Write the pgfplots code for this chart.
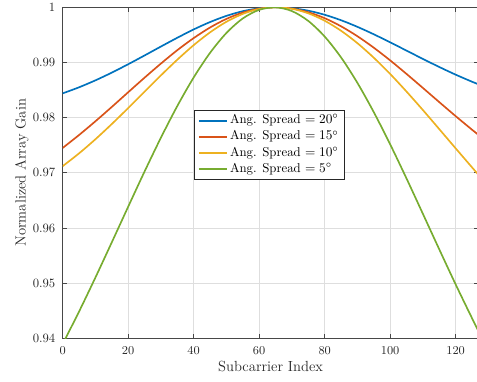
\documentclass[border=0pt]{standalone}
\usepackage{pgfplots}
\pgfplotsset{compat=1.18}
\definecolor{matA}{rgb}{0,0.447,0.741}
\definecolor{matB}{rgb}{0.85,0.325,0.098}
\definecolor{matC}{rgb}{0.929,0.694,0.125}
\definecolor{matD}{rgb}{0.466,0.674,0.188}
\definecolor{axgray}{rgb}{0.15,0.15,0.15}
\pgfplotsset{
  mline/.style={line width=1.25pt, smooth, tension=0.5},
  legend image code/.code={\draw[#1, line width=1.4pt] (0pt,0pt) -- (21pt,0pt);},
}
\begin{document}
\begin{tikzpicture}
\begin{axis}[
  scale only axis, width=312pt, height=248.25pt,
  xmin=0, xmax=127, ymin=0.94, ymax=1,
  xtick={0,20,40,60,80,100,120},
  ytick={0.94,0.95,0.96,0.97,0.98,0.99,1},
  yticklabels={0.94,0.95,0.96,0.97,0.98,0.99,1},
  scaled y ticks=false,
  tick align=inside, major tick length=3.2pt,
  grid=major, grid style={color=black!13, line width=0.45pt},
  axis line style={color=black!72, line width=0.6pt},
  tick style={color=black!72, line width=0.6pt},
  ticklabel style={font=\fontsize{9.5}{11}\selectfont, text=axgray},
  xticklabel style={yshift=-3pt},
  yticklabel style={xshift=-2pt},
  xlabel={Subcarrier Index}, ylabel={Normalized Array Gain},
  label style={font=\fontsize{11}{13}\selectfont, text=axgray},
  xlabel style={at={(axis description cs:0.5,-0.0866)}, anchor=center},
  ylabel style={at={(axis description cs:-0.0978,0.5)}, anchor=center},
  legend style={at={(axis description cs:0.497,0.584)}, anchor=center,
    draw=axgray, fill=white, inner xsep=3pt, inner ysep=1.5pt,
    font=\fontsize{9.6}{11}\selectfont,
    nodes={inner sep=1.6pt, text height=6.8pt, text depth=2.2pt}},
  legend cell align=left,
]
\coordinate (sw) at (rel axis cs:0,0);
\coordinate (ne) at (rel axis cs:1,1);
\addplot[color=matA, mline] coordinates {
(0,0.98440)(5,0.98550)(10,0.98676)(15,0.98816)(20,0.98968)(25,0.99127)(30,0.99289)
(35,0.99448)(40,0.99599)(45,0.99733)(50,0.99845)(55,0.99930)(60,0.99982)(65,1.0)
(70,0.99984)(75,0.99939)(80,0.99865)(85,0.99766)(90,0.99646)(95,0.99511)(100,0.99365)
(105,0.99215)(110,0.99064)(115,0.98918)(120,0.98779)(125,0.98651)(127,0.98604)};
\addlegendentry{Ang. Spread $= 20^\circ$}
\addplot[color=matB, mline] coordinates {
(0,0.97450)(5,0.97685)(10,0.97934)(15,0.98194)(20,0.98460)(25,0.98724)(30,0.98980)
(35,0.99223)(40,0.99442)(45,0.99634)(50,0.99790)(55,0.99905)(60,0.99976)(65,1.0)
(70,0.99978)(75,0.99911)(80,0.99803)(85,0.99656)(90,0.99476)(95,0.99268)(100,0.99038)
(105,0.98792)(110,0.98538)(115,0.98281)(120,0.98027)(125,0.97781)(127,0.97686)};
\addlegendentry{Ang. Spread $= 15^\circ$}
\addplot[color=matC, mline] coordinates {
(0,0.97120)(5,0.97352)(10,0.97608)(15,0.97884)(20,0.98173)(25,0.98470)(30,0.98766)
(35,0.99050)(40,0.99314)(45,0.99546)(50,0.99738)(55,0.99881)(60,0.99970)(65,1.0)
(70,0.99973)(75,0.99891)(80,0.99757)(85,0.99575)(90,0.99350)(95,0.99086)(100,0.98792)
(105,0.98472)(110,0.98137)(115,0.97791)(120,0.97443)(125,0.97098)(127,0.96962)};
\addlegendentry{Ang. Spread $= 10^\circ$}
\addplot[color=matD, mline] coordinates {
(0,0.93896)(5,0.94483)(10,0.95101)(15,0.95739)(20,0.96384)(25,0.97022)(30,0.97636)
(35,0.98210)(40,0.98728)(45,0.99174)(50,0.99535)(55,0.99798)(60,0.99954)(65,1.0)
(70,0.99932)(75,0.99753)(80,0.99470)(85,0.99092)(90,0.98630)(95,0.98099)(100,0.97516)
(105,0.96896)(110,0.96255)(115,0.95611)(120,0.94976)(125,0.94363)(127,0.94126)};
\addlegendentry{Ang. Spread $= 5^\circ$}
\end{axis}
\pgfresetboundingbox
\path[use as bounding box] ([xshift=-47pt,yshift=-32.8pt]sw) rectangle ([xshift=-1.2pt,yshift=5.5pt]ne);
\end{tikzpicture}
\end{document}
